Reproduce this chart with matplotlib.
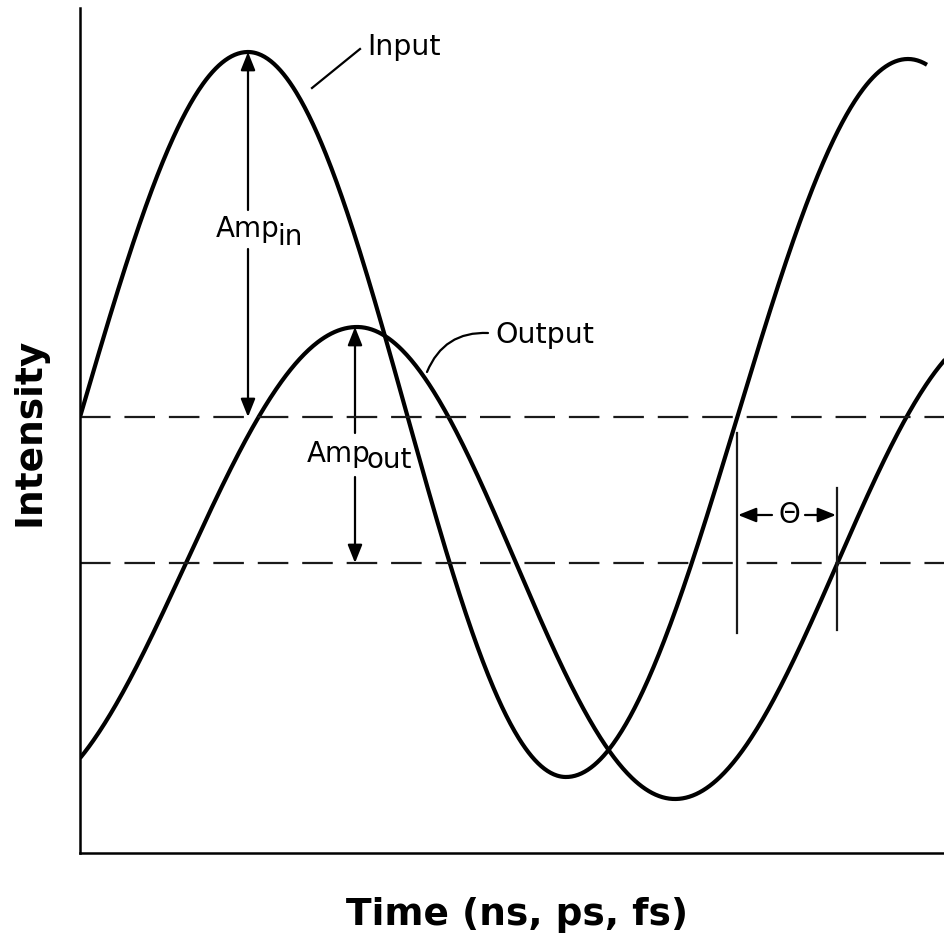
import numpy as np
import matplotlib.pyplot as plt
from matplotlib.patches import FancyArrowPatch

plt.rcParams['font.family'] = 'DejaVu Sans'
plt.rcParams['lines.scale_dashes'] = False

# Extrema of each wave (time, intensity)
in_peak_t = [-168, 168, 486, 828, 1160]
in_peak_y = [71, 801, 76, 794, 76]
in_end = 847

out_peak_t = [-65, 277, 595, 920]
out_peak_y = [54, 526, 54, 526]

# Mean levels (dashed lines)
levels = [436, 290]

# Phase marker lines
theta_t = [657, 757]
theta_lo = [220, 223]
theta_hi = [420, 365]


def wave(tk, yk, t):
    # half-cosine between successive extrema
    y = np.zeros_like(t)
    for i in range(len(tk) - 1):
        m = (t >= tk[i]) & (t <= tk[i + 1])
        s = (t[m] - tk[i]) / (tk[i + 1] - tk[i])
        y[m] = (yk[i] + yk[i + 1]) / 2 + (yk[i] - yk[i + 1]) / 2 * np.cos(np.pi * s)
    return y


t_in = np.linspace(0, in_end, 800)
t_out = np.linspace(0, 900, 800)
y_in = wave(in_peak_t, in_peak_y, t_in)
y_out = wave(out_peak_t, out_peak_y, t_out)

fig = plt.figure(figsize=(9.44, 9.44), dpi=100)
ax = fig.add_axes([80 / 944, 91 / 944, 864 / 944, 845 / 944])
ax.set_xlim(0, 864)
ax.set_ylim(0, 845)

ax.plot(t_in, y_in, color='black', lw=3.0, solid_capstyle='butt')
ax.plot(t_out, y_out, color='black', lw=3.0, solid_capstyle='butt')

for lv in levels:
    ln, = ax.plot([0, 864], [lv, lv], color='#1a1a1a', lw=1.6)
    ln.set_dashes((22, 10))

for x, lo, hi in zip(theta_t, theta_lo, theta_hi):
    ax.plot([x, x], [lo, hi], color='#1a1a1a', lw=1.6)


def arrow(p0, p1):
    a = FancyArrowPatch(p0, p1, arrowstyle='-|>,head_length=0.5,head_width=0.2',
                        mutation_scale=22, color='black', lw=1.6,
                        shrinkA=0, shrinkB=0)
    ax.add_patch(a)


# Amp_in
arrow((168, 643), (168, 801))
arrow((168, 604), (168, 436))
ax.text(200, 616, 'Amp', fontsize=20, ha='right', va='baseline')
ax.text(197, 608, 'in', fontsize=20, ha='left', va='baseline')

# Amp_out
arrow((275, 420), (275, 526))
arrow((275, 376), (275, 290))
ax.text(291, 391, 'Amp', fontsize=20, ha='right', va='baseline')
ax.text(287, 385, 'out', fontsize=20, ha='left', va='baseline')

# Theta
arrow((692, 338), (658, 338))
arrow((725, 338), (756, 338))
ax.text(709, 338, 'Θ', fontsize=20, ha='center', va='center')

# Curve labels
ax.plot([232, 280], [765, 804], color='black', lw=1.6)
ax.text(287, 806, 'Input', fontsize=20.5, ha='left', va='center')
lead = FancyArrowPatch((347, 481), (408, 520), arrowstyle='-',
                       connectionstyle='arc3,rad=-0.35', color='black', lw=1.6,
                       shrinkA=0, shrinkB=0)
ax.add_patch(lead)
ax.text(415, 518, 'Output', fontsize=20.5, ha='left', va='center')

ax.spines['top'].set_visible(False)
ax.spines['right'].set_visible(False)
ax.spines['left'].set_linewidth(1.8)
ax.spines['bottom'].set_linewidth(1.8)
ax.set_xticks([])
ax.set_yticks([])

fig.text(517 / 944, 1 - 915 / 944, 'Time (ns, ps, fs)', fontsize=27,
         fontweight='bold', ha='center', va='center')
fig.text(30 / 944, 1 - 432 / 944, 'Intensity', fontsize=27,
         fontweight='bold', ha='center', va='center', rotation=90)

fig.savefig('out.png', dpi=100)
